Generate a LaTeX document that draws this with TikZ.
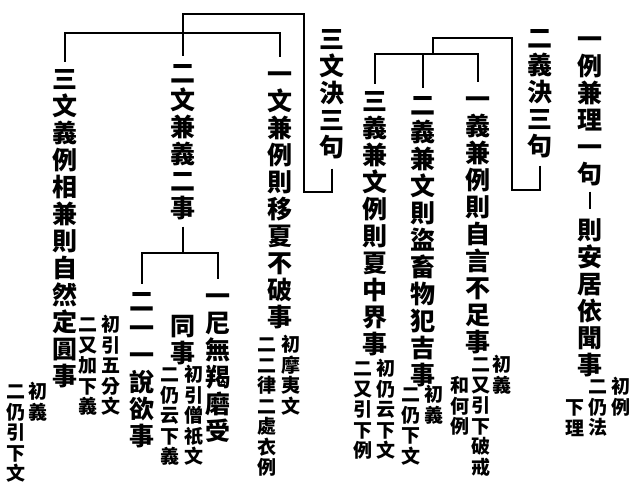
\documentclass[tikz,border=0pt]{standalone}
\usepackage{fontspec}
\newfontfamily\cjk{Noto Sans CJK TC}

% stack the characters of #1 one per line
\newcommand\vt[1]{\vtaux#1\relax}
\def\vtaux#1#2\relax{\rule[-.12em]{0pt}{1em}#1\ifx\relax#2\relax\else\\\vtaux#2\relax\fi}

\begin{document}
\begin{tikzpicture}[x=1pt,y=-1pt,line width=1.2pt,
  big/.style={font=\cjk\bfseries\fontsize{25}{27}\selectfont,text width=27pt,align=center,
    inner sep=0pt,anchor=north,yshift=12.5pt},
  note/.style={font=\cjk\bfseries\fontsize{19}{20.5}\selectfont,text width=21pt,align=center,
    inner sep=0pt,anchor=north,yshift=9.5pt},
  tick/.style={shorten <=4pt,shorten >=4pt}]
  \useasboundingbox (0,0) rectangle (631,496);

  % first: example and principle
  \node[big] (li1) at (590,38) {\vt{一例兼理一句}};
  \node[big] (li2) at (590,229) {\vt{則安居依聞事}};
  \node[note] (li3) at (621,386) {\vt{初例}};
  \node[note] (li4) at (598,386) {\vt{二仍法}};
  \node[note] (li5) at (575,407) {\vt{下理}};
  \draw[shorten <=5pt,shorten >=8pt] (li1) -- (li2);

  % second: meaning, three sentences
  \node[big] (yi) at (540,37) {\vt{二義決三句}};
  \node[big] (yi1) at (478,98) {\vt{一義兼例則自言不足事}};
  \node[big] (yi2) at (423,104) {\vt{二義兼文則盜畜物犯吉事}};
  \node[big] (yi3) at (375,100) {\vt{三義兼文例則夏中界事}};
  \node[note] (yi1a) at (502,364) {\vt{初義}};
  \node[note] (yi1b) at (481,364) {\vt{二又引下破戒}};
  \node[note] (yi1c) at (460,385) {\vt{和何例}};
  \node[note] (yi2a) at (434,394) {\vt{初義}};
  \node[note] (yi2b) at (411,394) {\vt{二仍下文}};
  \node[note] (yi3a) at (386,368) {\vt{初仍云下文}};
  \node[note] (yi3b) at (363,368) {\vt{二又引下例}};

  \coordinate (yitop) at (512,38);
  \coordinate (yibot) at (512,190);
  \coordinate (yijoin) at (433,54);
  \draw[shorten <=7pt] (yi.south) |- (yibot) -- (yitop) -| (yijoin);
  \draw[tick] (yi3.north) -- (yi3.north |- yijoin) -- (yi1.north |- yijoin) -- (yi1.north);
  \draw[shorten >=4pt] (yi2.north |- yijoin) -- (yi2.north);

  % third: text, three sentences
  \node[big] (wen) at (332,38) {\vt{三文決三句}};
  \node[big] (wen1) at (280,73) {\vt{一文兼例則移夏不破事}};
  \node[big] (wen2) at (183,72) {\vt{二文兼義二事}};
  \node[big] (wen3) at (65,78) {\vt{三文義例相兼則自然定圓事}};
  \node[note] (wen1a) at (291,344) {\vt{初摩夷文}};
  \node[note] (wen1b) at (267,344) {\vt{二二律二處衣例}};
  \node[note] (wen3a) at (111,324) {\vt{初引五分文}};
  \node[note] (wen3b) at (88,324) {\vt{二又加下義}};
  \node[note] (wen3c) at (38,391) {\vt{初義}};
  \node[note] (wen3d) at (16,391) {\vt{二仍引下文}};

  \coordinate (wentop) at (304,14);
  \coordinate (wenbot) at (304,192);
  \coordinate (wenjoin) at (183,33);
  \draw[shorten <=9pt,shorten >=4pt] (wen.south) |- (wenbot) -- (wentop) -| (wen2.north);
  \draw[tick] (wen3.north) -- (wen3.north |- wenjoin) -- (wen1.north |- wenjoin) -- (wen1.north);

  % two matters under the second text
  \node[big] (shi1) at (218,295) {\vt{一尼無羯磨受}};
  \node[big] (shi1b) at (183,325) {\vt{同事}};
  \node[big] (shi2) at (142,300) {\vt{二一一說欲事}};
  \node[note] (shi1c) at (194,374) {\vt{初引僧祇文}};
  \node[note] (shi1d) at (170,374) {\vt{二仍云下義}};

  \coordinate (shijoin) at (183,253);
  \draw[shorten <=6pt] (wen2.south) -- (shijoin);
  \draw[tick] (shi2.north) -- (shi2.north |- shijoin) -- (shi1.north |- shijoin) -- (shi1.north);
\end{tikzpicture}
\end{document}
